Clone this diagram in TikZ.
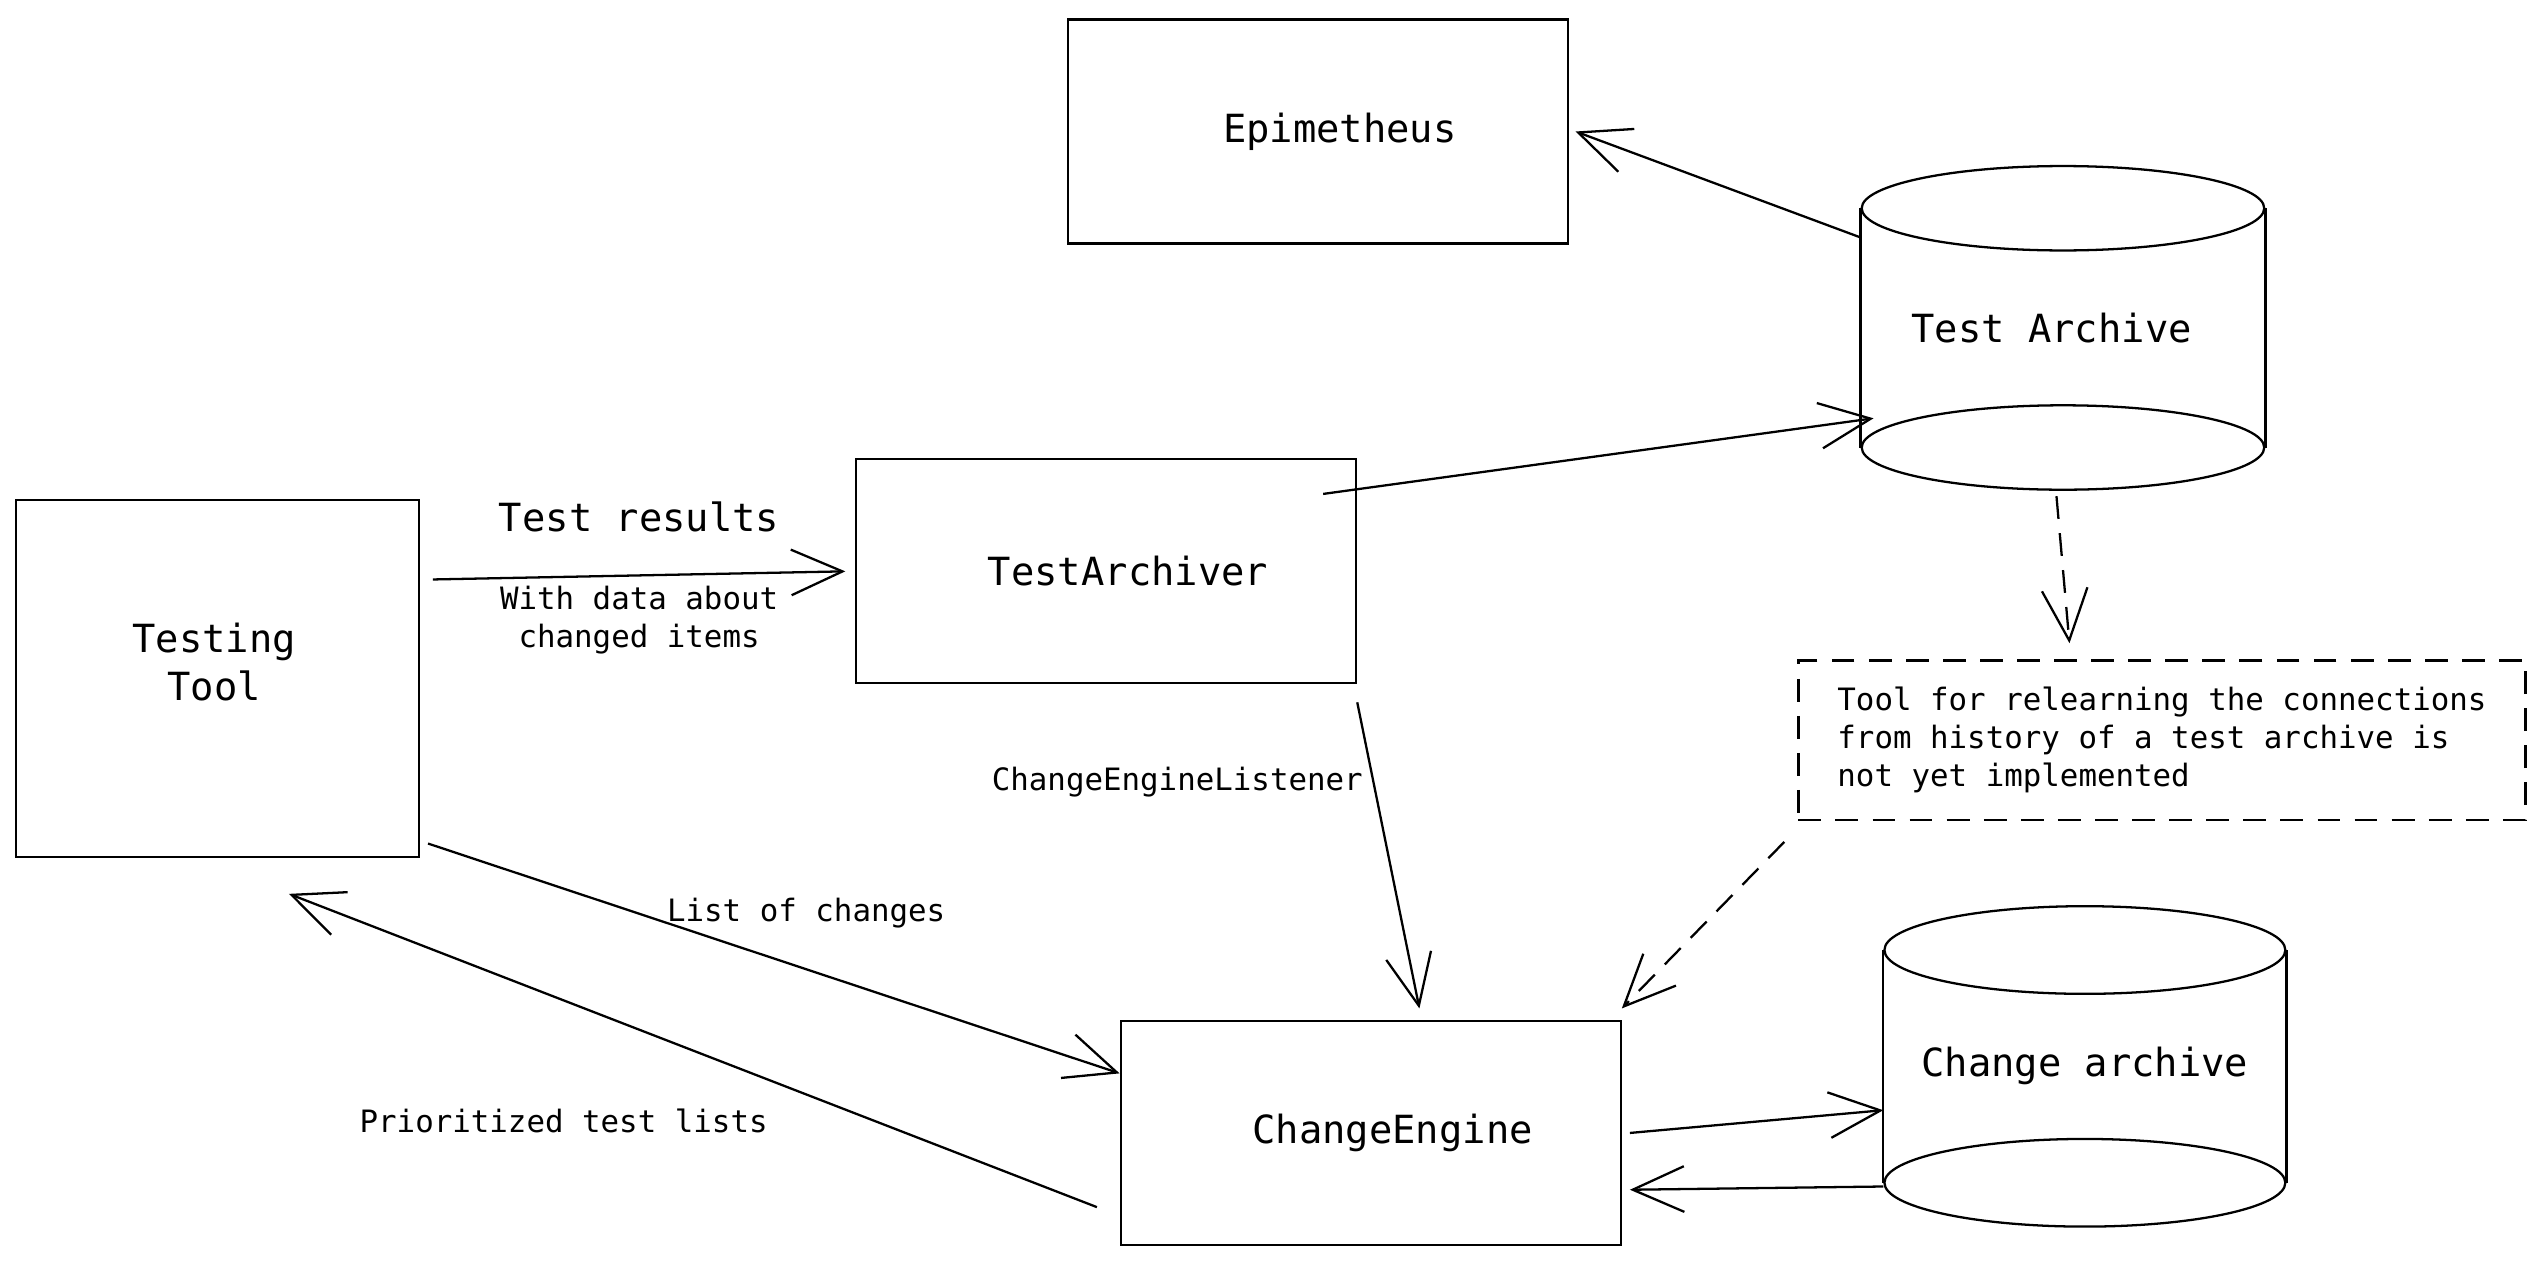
\documentclass[tikz,border=0pt]{standalone}
\usepackage{fontspec}
\setmonofont{DejaVu Sans Mono}
\usetikzlibrary{calc}
\usetikzlibrary{arrows.meta}

\begin{document}
\begin{tikzpicture}[line width=0.8pt,
  every node/.style={font=\ttfamily\fontsize{13.6}{17}\selectfont},
  lbl/.style={font=\ttfamily\fontsize{10.8}{13.3}\selectfont},
  box/.style={draw,minimum width=6.16cm,minimum height=2.76cm},
  arr/.style={-{Straight Barb[length=18pt,width=16pt]}},
  dsh/.style={dash pattern=on 8pt off 5pt}]

\useasboundingbox (0,0) rectangle (31.36,-15.575);

\node[box] (epi) at (16.24,-1.62) {\hspace*{0.54cm}Epimetheus};
\node[box,minimum width=4.96cm,minimum height=4.4cm] (tool) at (2.68,-8.36) {};
\node[align=center] (tooltxt) at ([xshift=-0.04cm,yshift=0.2cm]tool.center) {Testing\\Tool};
\node[box] (archiver) at (13.63,-7.04) {\hspace*{0.54cm}TestArchiver};
\node[box] (engine) at (16.89,-13.96) {\hspace*{0.54cm}ChangeEngine};
\node[draw,dsh,lbl,minimum width=8.96cm,minimum height=1.96cm,align=left] (note) at (26.64,-9.12)
  {Tool for relearning the connections\\from history of a test archive is\\not yet implemented};

% cylinders
\node[minimum width=4.96cm,minimum height=2.92cm] (testarch) at (25.42,-4.04) {Test Archive\hspace*{0.28cm}};
\draw (testarch.north) ellipse (2.48 and 0.52);
\draw (testarch.south) ellipse (2.48 and 0.52);
\draw (testarch.north west) -- (testarch.south west) (testarch.north east) -- (testarch.south east);

\node[minimum width=4.94cm,minimum height=2.84cm] (chgarch) at (25.69,-13.14) {Change archive};
\draw (chgarch.north) ellipse (2.47 and 0.54);
\draw (chgarch.south) ellipse (2.47 and 0.54);
\draw (chgarch.north west) -- (chgarch.south west) (chgarch.north east) -- (chgarch.south east);

\draw[arr] ([yshift=-0.36cm]testarch.north west) -- ([xshift=0.08cm]epi.east);
\draw[arr] ([xshift=-0.42cm,yshift=-0.44cm]archiver.north east) -- ([xshift=0.16cm,yshift=0.36cm]testarch.south west);
\draw[arr] ($(tool.east |- archiver.west)+(0.16,-0.1)$) -- node[above=0.4cm] (res) {Test results}
  node[lbl,below,align=center] (resdata) {With data about\\changed items} ([xshift=-0.12cm]archiver.west);
\draw[arr] ([yshift=-0.22cm]archiver.south east) -- node[lbl,pos=0.26,left] (listener) {ChangeEngineListener}
  ([xshift=0.6cm,yshift=0.14cm]engine.north);
\draw[arr,dsh] ([xshift=-0.08cm,yshift=-0.6cm]testarch.south) -- ([xshift=-1.14cm,yshift=0.2cm]note.north);
\draw[arr,dsh] ([xshift=-0.16cm,yshift=-0.26cm]note.south west) -- ([yshift=0.14cm]engine.north east);
\draw[arr] ([xshift=0.1cm,yshift=0.18cm]tool.south east) -- node[lbl,pos=0.344,anchor=west,yshift=0.12cm,inner sep=0pt] (changes) {List of changes}
  ([yshift=-0.66cm]engine.north west);
\draw[arr] ([xshift=-0.28cm,yshift=0.48cm]engine.south west) -- node[lbl,pos=0.66,yshift=-1.48cm] (prio) {Prioritized test lists}
  ([xshift=0.88cm,yshift=-0.44cm]tool.south);
\draw[arr] ([xshift=0.1cm]engine.east) -- ([yshift=-0.54cm]chgarch.west);
\draw[arr] ([yshift=-1.48cm]chgarch.west) -- ([xshift=0.1cm,yshift=-0.7cm]engine.east);

\end{tikzpicture}
\end{document}
